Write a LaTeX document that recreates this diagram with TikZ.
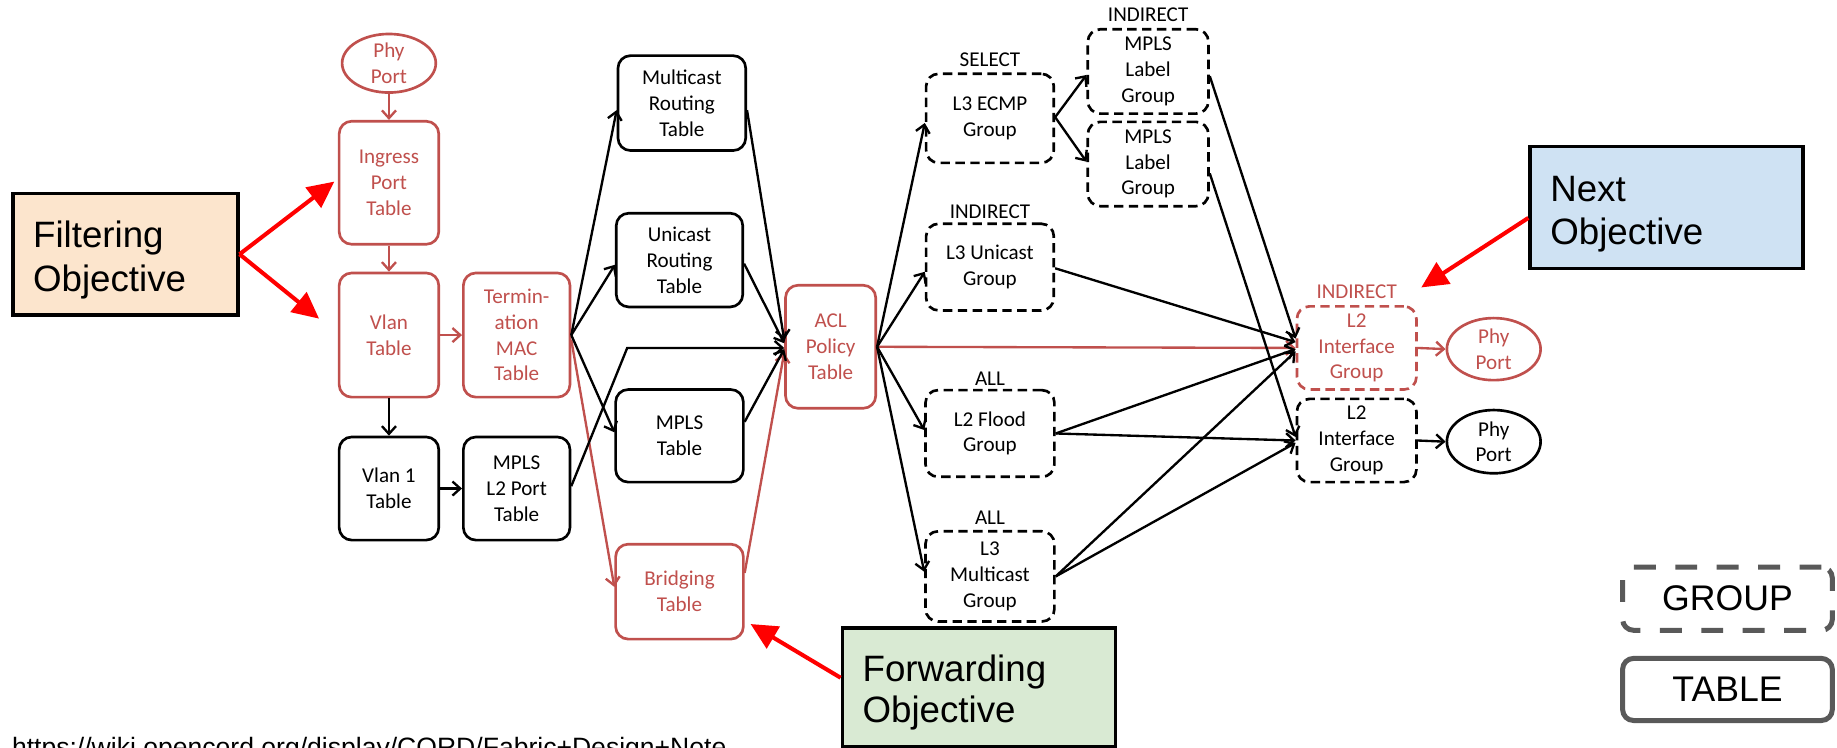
\documentclass[tikz,border=0pt]{standalone}
\usepackage{fontspec}
\setmainfont{Liberation Sans}
\newfontfamily\calib{Carlito}
\usetikzlibrary{arrows.meta,shapes.geometric,calc}
\definecolor{tred}{RGB}{192,80,77}
\definecolor{objred}{RGB}{255,0,0}
\definecolor{filtfill}{RGB}{252,229,205}
\definecolor{nextfill}{RGB}{207,226,243}
\definecolor{fwdfill}{RGB}{217,234,211}
\definecolor{legendgray}{RGB}{89,89,89}

\begin{document}
\begin{tikzpicture}[x=0.75pt,y=-0.75pt,
  nodetext/.style={align=center,inner sep=0pt,font=\calib\fontsize{13.5}{16.5}\selectfont},
  tablebox/.style={nodetext,rectangle,rounded corners=8pt,line width=1.7pt},
  groupbox/.style={tablebox,dash pattern=on 6pt off 3.5pt},
  portshape/.style={nodetext,ellipse,line width=1.7pt},
  rednode/.style={draw=tred,text=tred},
  blacknode/.style={draw=black,text=black},
  dims/.style 2 args={minimum width={#1*0.75pt},minimum height={#2*0.75pt}},
  flow/.style={line width=1.5pt,-{Straight Barb[length=5pt,width=9pt]}},
  redflow/.style={flow,draw=tred},
  objbox/.style={draw=black,line width=2.2pt,rectangle,inner sep=0pt},
  objtext/.style={font=\fontsize{23.5}{28}\selectfont,inner sep=0pt,anchor=base west},
  pointer/.style={draw=objred,line width=2.6pt,-{Triangle[length=17pt,width=16pt,fill=objred]}},
  legendbox/.style={draw=legendgray,line width=3.2pt,rounded corners=7pt,inner sep=0pt,
    font=\fontsize{22.8}{26}\selectfont},
]
\fill[white] (0,0) rectangle (1568,638);
\useasboundingbox (0,0) rectangle (1568,638);

% ---------- ingress pipeline ----------
\node[portshape,rednode,dims={80}{50}] (phyA) at (332,54) {Phy\\Port};
\node[tablebox,rednode,dims={85}{105}] (ingress) at (332,156) {Ingress\\Port\\Table};
\node[tablebox,rednode,dims={85}{106}] (vlan) at (332,286) {Vlan\\Table};
\node[tablebox,rednode,dims={91}{106}] (tmac) at (441,286) {Termin-\\ation\\MAC\\Table};
\node[tablebox,blacknode,dims={85}{88}] (vlan1) at (332,417) {Vlan 1\\Table};
\node[tablebox,blacknode,dims={91}{88}] (mplsl2) at (441,417) {MPLS\\L2 Port\\Table};

% ---------- forwarding tables ----------
\node[tablebox,blacknode,dims={109}{81}] (mcast) at (582,88) {Multicast\\Routing\\Table};
\node[tablebox,blacknode,dims={108}{80}] (ucast) at (580,222) {Unicast\\Routing\\Table};
\node[tablebox,blacknode,dims={109}{79}] (mpls) at (580,372) {MPLS\\Table};
\node[tablebox,rednode,dims={109}{81}] (bridge) at (580,505) {Bridging\\Table};
\node[tablebox,rednode,dims={77}{105}] (acl) at (709,296) {ACL\\Policy\\Table};

% ---------- groups ----------
\node[groupbox,blacknode,dims={109}{76}] (ecmp) at (845,101) {L3 ECMP\\Group};
\node[groupbox,blacknode,dims={103}{72}] (mlg1) at (980,61) {MPLS\\Label\\Group};
\node[groupbox,blacknode,dims={103}{72}] (mlg2) at (980,140) {MPLS\\Label\\Group};
\node[groupbox,blacknode,dims={109}{74}] (l3u) at (845,228) {L3 Unicast\\Group};
\node[groupbox,blacknode,dims={110}{74}] (l2f) at (845,370) {L2 Flood\\Group};
\node[groupbox,blacknode,dims={110}{77}] (l3m) at (845,492) {L3\\Multicast\\Group};
\node[groupbox,rednode,dims={102}{71}] (l2ir) at (1158,297) {L2\\Interface\\Group};
\node[groupbox,blacknode,dims={102}{71}] (l2ib) at (1158,376) {L2\\Interface\\Group};
\node[portshape,rednode,dims={80}{53}] (phyR) at (1275,298) {Phy\\Port};
\node[portshape,blacknode,dims={80}{54}] (phyB) at (1275,377) {Phy\\Port};

% group type labels
\node[nodetext] (tselect) at (845,51) {SELECT};
\node[nodetext] (tind1) at (980,13) {INDIRECT};
\node[nodetext] (tind2) at (845,181) {INDIRECT};
\node[nodetext] (tall1) at (845,323) {ALL};
\node[nodetext] (tall2) at (845,442) {ALL};
\node[nodetext,text=tred] (tind3) at (1158,249) {INDIRECT};

% ---------- red (filtering / bridging) path ----------
\draw[redflow] (phyA.south) -- (ingress.north);
\draw[redflow] (ingress.south) -- (vlan.north);
\draw[redflow] (vlan.east) -- (tmac.west);
\draw[redflow] ($(tmac.east)+(0,4)$) -- ($(bridge.west)+(0,-4)$);
\draw[redflow] ($(bridge.east)+(0,-16)$) -- ($(acl.west)+(0,5)$);
\draw[redflow] (acl.east) -- (l2ir.west);
\draw[redflow] (l2ir.east) -- (phyR.west);

% ---------- black connectors ----------
\draw[flow] (vlan.south) -- (vlan1.north);
\draw[flow] (vlan1.east) -- (mplsl2.west);
\draw[flow] (tmac.east) -- ($(mcast.west)+(0,6)$);
\draw[flow] (tmac.east) -- ($(ucast.west)+(0,4)$);
\draw[flow] (tmac.east) -- ($(mpls.west)+(0,-3)$);
\draw[flow] ($(mplsl2.east)+(0,-2)$) -- ($(acl.west)+(-134,1)$) -- ($(acl.west)+(0,1)$);
\draw[flow] ($(mcast.east)+(0,6)$) -- ($(acl.west)+(0,-6)$);
\draw[flow] ($(ucast.east)+(0,3)$) -- ($(acl.west)+(0,-3)$);
\draw[flow] ($(mpls.east)+(0,-12)$) -- ($(acl.west)+(0,2)$);

\draw[flow] (acl.east) -- ($(ecmp.west)+(0,4)$);
\draw[flow] (acl.east) -- ($(l3u.west)+(0,4)$);
\draw[flow] (acl.east) -- ($(l2f.west)+(0,-3)$);
\draw[flow] (acl.east) -- ($(l3m.west)+(0,-4)$);

\draw[flow] ($(ecmp.east)+(0,-1)$) -- ($(mlg1.west)+(0,3)$);
\draw[flow] ($(ecmp.east)+(0,-1)$) -- ($(mlg2.west)+(0,-2)$);
\draw[flow] ($(mlg1.east)+(0,4)$) -- ($(l2ir.west)+(0,-8)$);
\draw[flow] ($(mlg2.east)+(0,8)$) -- ($(l2ib.west)+(0,-3)$);
\draw[flow] ($(l3u.east)+(0,1)$) -- ($(l2ir.west)+(0,-5)$);
\draw[flow] (l2f.east) -- ($(l2ir.west)+(0,1)$);
\draw[flow] (l2f.east) -- (l2ib.west);
\draw[flow] (l3m.east) -- ($(l2ir.west)+(0,3)$);
\draw[flow] (l3m.east) -- ($(l2ib.west)+(0,2)$);
\draw[flow] (l2ib.east) -- (phyB.west);

% ---------- objective call-outs ----------
\node[objbox,fill=filtfill,dims={192}{104}] (filt) at (107,217) {};
\node[objtext] (filtA) at (28,211) {Filtering};
\node[objtext] (filtB) at (28,249) {Objective};

\node[objbox,fill=nextfill,dims={233}{104}] (next) at (1422.5,177) {};
\node[objtext] (nextA) at (1323,172) {Next};
\node[objtext] (nextB) at (1323,209) {Objective};

\node[objbox,fill=fwdfill,dims={233}{101}] (fwd) at (835.5,586.5) {};
\node[objtext] (fwdA) at (736,582) {Forwarding};
\node[objtext] (fwdB) at (736,617) {Objective};

\coordinate (tipIngress) at ($(ingress.west)+(-3,-1)$);
\coordinate (tipVlan) at ($(vlan.west)+(-16,-14)$);
\coordinate (tipNext) at ($(l2ir.north east)+(3,-15)$);
\coordinate (tipFwd) at ($(bridge.south east)+(5,-14)$);

\draw[pointer] (filt.east) -- (tipIngress);
\draw[pointer] (filt.east) -- (tipVlan);
\draw[pointer] ($(next.west)+(0,9)$) -- (tipNext);
\draw[pointer] ($(fwd.west)+(0,-8)$) -- (tipFwd);

% ---------- legend ----------
\node[legendbox,dash pattern=on 14pt off 12.5pt,dims={179}{54}] (legGroup) at (1474.5,511) {GROUP};
\node[legendbox,dims={179}{53}] (legTable) at (1474.5,588.5) {TABLE};

% source note
\node[font=\fontsize{17}{20}\selectfont,anchor=base west,inner sep=0pt] (url) at (10,646)
  {https://wiki.opencord.org/display/CORD/Fabric+Design+Note};
\end{tikzpicture}
\end{document}
